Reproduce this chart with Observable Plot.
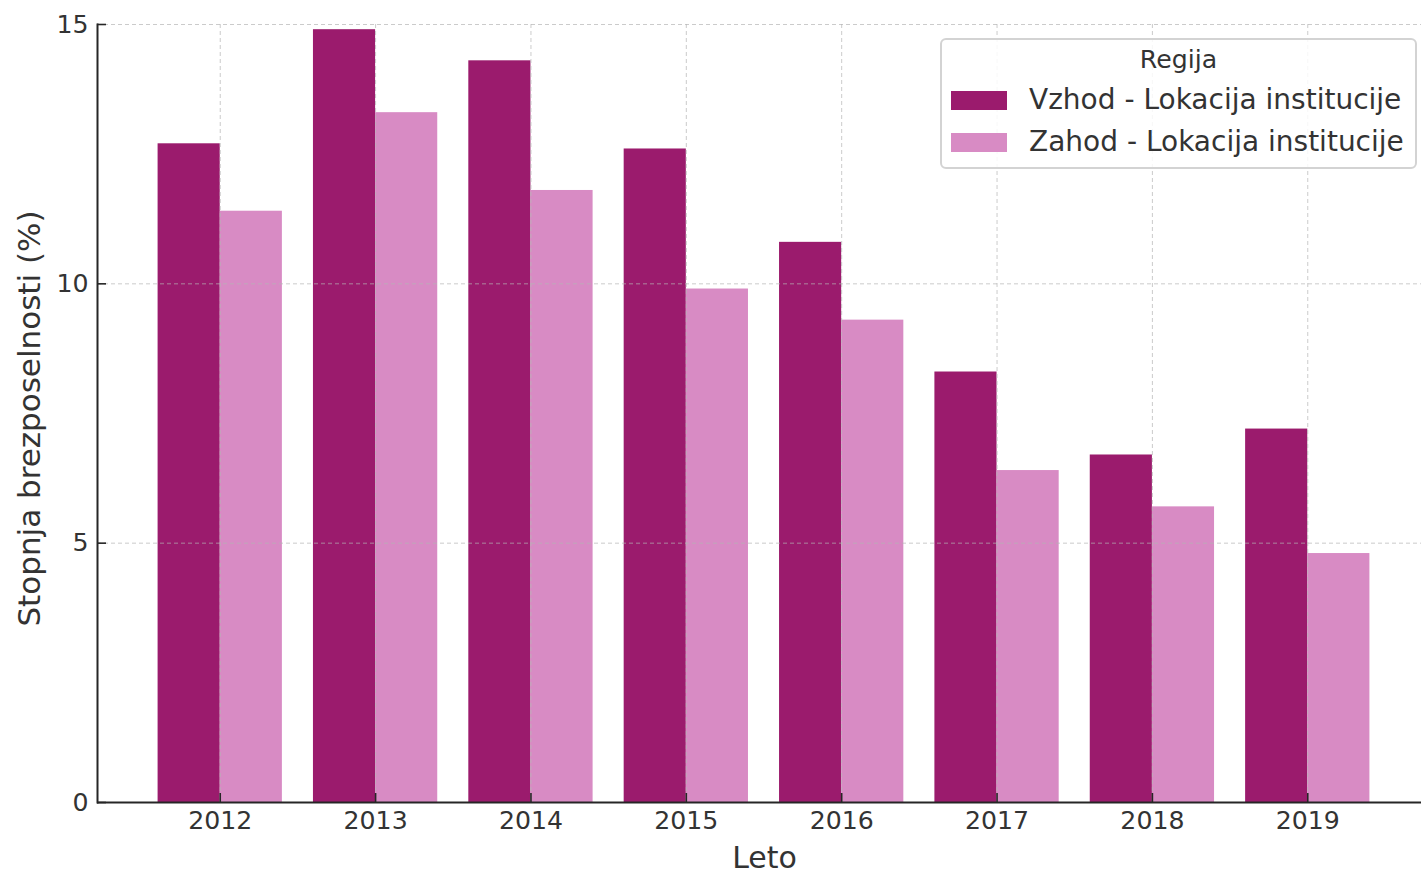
<!DOCTYPE html>
<html><head><meta charset="utf-8">
<script src="https://cdn.jsdelivr.net/npm/d3@7"></script>
<script src="https://cdn.jsdelivr.net/npm/@observablehq/plot@0.6"></script>
<style>
html,body{margin:0;padding:0;background:#fff;}
#wrap{position:relative;width:1421px;height:875px;font-family:"DejaVu Sans",sans-serif;overflow:hidden;}
#wrap svg{position:absolute;left:0;top:0;}
.lg-box{position:absolute;left:940px;top:38px;width:477px;height:131px;box-sizing:border-box;border:2px solid #d3d3d3;border-radius:6px;background:rgba(255,255,255,0.85);}
.lg-title{position:absolute;left:940px;width:477px;top:47px;text-align:center;font-size:25.2px;line-height:1;color:#333;}
.lg-sw{position:absolute;left:951px;width:56px;height:19px;}
.lg-txt{position:absolute;left:1029px;font-size:28px;line-height:1;color:#333;white-space:nowrap;}
</style></head>
<body><div id="wrap"></div>
<script>
const years = [2012, 2013, 2014, 2015, 2016, 2017, 2018, 2019];
const vzhod = [12.7, 14.9, 14.3, 12.6, 10.8, 8.3, 6.7, 7.2];
const zahod = [11.4, 13.3, 11.8, 9.9, 9.3, 6.4, 5.7, 4.8];
const seriesNames = ["Vzhod - Lokacija institucije", "Zahod - Lokacija institucije"];
const seriesColors = ["#9b1b6d", "#d88bc4"];
const yTicks = [0, 5, 10, 15];
const legendTitle = "Regija";
const xLabel = "Leto";
const yLabel = "Stopnja brezposelnosti (%)";

const barW = 0.4;
const data = years.flatMap((yr, i) => [
  {year: yr, series: seriesNames[0], value: vzhod[i], side: 0},
  {year: yr, series: seriesNames[1], value: zahod[i], side: 1}
]);

const textColor = "#333";
const plot = Plot.plot({
  width: 1421,
  height: 875,
  marginLeft: 97,
  marginRight: 0,
  marginTop: 24,
  marginBottom: 73,
  style: {fontFamily: "DejaVu Sans", background: "transparent", overflow: "visible"},
  x: {domain: [years[0] - barW - 0.39, years[years.length - 1] + barW + 0.39], range: [97, 1430]},
  y: {domain: [0, 15]},
  color: {domain: seriesNames, range: seriesColors},
  marks: [
    Plot.rectY(data, {
      x1: d => d.year - barW + d.side * barW,
      x2: d => d.year + d.side * barW,
      y: "value",
      fill: "series"
    }),
    Plot.gridX(years, {stroke: "#b5b5b5", strokeOpacity: 0.7, strokeDasharray: "4,3", strokeWidth: 1}),
    Plot.gridY(yTicks, {stroke: "#b5b5b5", strokeOpacity: 0.7, strokeDasharray: "4,3", strokeWidth: 1}),
    Plot.axisX(years, {tickSize: -9, tickFormat: () => "", stroke: "#262626", strokeWidth: 1.6, label: null}),
    Plot.axisX(years, {tickSize: 0, tickPadding: 9, tickFormat: d => String(d), fontSize: 25.2, fill: textColor, label: null}),
    Plot.axisY(yTicks, {tickSize: -9, tickFormat: () => "", stroke: "#262626", strokeWidth: 1.6, label: null}),
    Plot.axisY(yTicks, {tickSize: 0, tickPadding: 9, tickFormat: d => String(d), fontSize: 25.2, fill: textColor, label: null}),
    Plot.ruleY([0], {stroke: "#262626", strokeWidth: 2}),
    Plot.frame({anchor: "left", stroke: "#262626", strokeWidth: 2}),
    Plot.text([xLabel], {text: d => d, frameAnchor: "bottom", dx: 5, dy: 55.5, lineAnchor: "middle", fontSize: 30, fill: textColor}),
    Plot.text([yLabel], {text: d => d, frameAnchor: "left", textAnchor: "middle", dx: -67, dy: 5, rotate: -90, fontSize: 31, fill: textColor})
  ]
});

const wrap = document.getElementById("wrap");
wrap.appendChild(plot);

const box = document.createElement("div"); box.className = "lg-box"; wrap.appendChild(box);
const t = document.createElement("div"); t.className = "lg-title"; t.textContent = legendTitle; wrap.appendChild(t);
const rowTops = [91, 133];
seriesNames.forEach((name, i) => {
  const sw = document.createElement("div"); sw.className = "lg-sw";
  sw.style.top = rowTops[i] + "px"; sw.style.background = seriesColors[i]; wrap.appendChild(sw);
  const tx = document.createElement("div"); tx.className = "lg-txt";
  tx.style.top = (rowTops[i] - 5) + "px"; tx.textContent = name; wrap.appendChild(tx);
});
</script>
</body></html>
